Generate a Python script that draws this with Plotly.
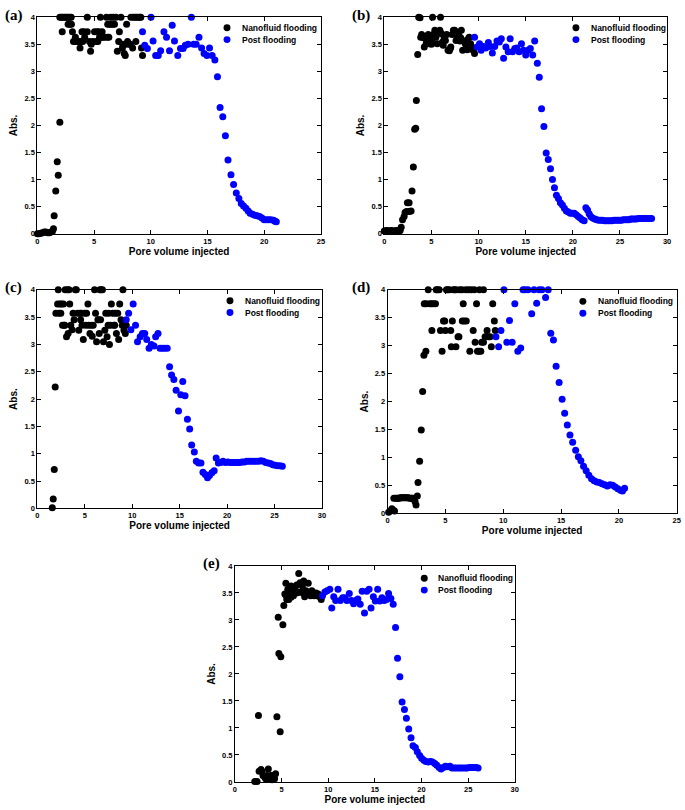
import plotly.graph_objects as go

# ---------------- data ----------------
# (a)
a_nf_x = [0.00,0.15,0.30,0.45,0.60,0.75,0.90,1.05,1.20,1.32,1.42,1.48,1.62,1.75,1.84,1.98,
          1.98,2.10,2.22,2.35,2.48,2.60,2.72,2.85,2.98,2.19,2.71,2.85,3.00,3.09,3.18,3.35,3.36,
          3.53,3.70,3.76,3.85,3.93,4.00,4.10,4.17,4.40,4.40,4.60,4.69,4.75,4.90,5.04,5.19,5.27,
          5.33,5.42,5.48,5.56,5.62,5.71,5.76,5.91,6.09,6.15,6.20,6.30,6.35,6.45,6.50,6.65,6.70,
          6.80,6.93,7.05,7.17,7.23,7.37,7.50,7.52,7.66,7.75,7.75,7.87,7.95,8.04,8.19,8.25,8.40,
          8.45,8.60,8.68,8.75,8.90,9.05,9.12,9.18,9.27]
a_nf_y = [0.00,0.00,0.01,0.02,0.03,0.03,0.02,0.02,0.03,0.04,0.09,0.33,0.79,1.33,1.08,2.06,
          4.00,4.00,4.00,4.00,4.00,4.00,4.00,4.00,4.00,3.73,3.87,3.87,3.87,3.73,3.55,3.63,3.55,
          3.55,3.55,3.43,3.55,3.73,3.55,3.73,3.63,4.00,3.73,3.55,3.37,3.50,3.55,3.73,3.55,3.73,
          3.55,3.73,3.63,4.00,3.63,3.73,3.63,3.63,4.00,3.63,3.87,3.63,3.87,4.00,3.87,3.87,4.00,
          3.87,4.00,3.37,3.55,3.73,4.00,3.43,3.50,3.33,3.29,3.50,3.87,3.55,3.50,3.50,4.00,3.43,
          4.00,4.00,3.55,4.00,4.00,4.00,4.00,3.43,3.29]
a_pf_x = [9.27,9.47,9.70,10.02,10.20,10.43,10.66,10.87,11.16,11.39,11.65,11.89,12.09,12.38,12.62,
          12.85,13.05,13.29,13.58,13.78,14.00,14.25,14.48,14.70,14.95,15.18,15.41,15.65,15.88,16.11,
          16.35,16.58,16.81,17.07,17.30,17.54,17.77,17.98,18.18,18.39,18.59,18.76,18.97,19.17,19.38,
          19.60,19.80,20.00,20.20,20.40,20.60,20.83,20.95,21.07]
a_pf_y = [3.73,3.48,3.42,4.00,3.56,3.29,3.29,3.38,3.73,3.63,3.38,3.85,3.56,3.29,3.42,
          3.42,3.48,3.50,4.00,3.50,3.50,3.63,3.43,3.33,3.29,3.43,3.29,3.21,2.90,2.33,
          2.16,1.81,1.36,1.09,0.91,0.75,0.65,0.56,0.51,0.47,0.42,0.38,0.36,0.34,0.33,
          0.32,0.29,0.26,0.26,0.26,0.26,0.25,0.23,0.22]

# (b)
b_nf_x = [0.00,0.12,0.24,0.36,0.48,0.60,0.72,0.84,0.96,1.08,1.20,1.32,1.44,1.56,1.68,
          1.79,1.93,2.10,2.20,2.35,2.45,2.63,2.66,2.84,2.94,3.08,3.22,3.33,3.40,3.54,3.65,3.79,5.12,5.96,
          3.86,3.96,4.14,4.24,4.38,4.52,4.66,4.77,4.90,5.05,5.19,5.36,5.47,5.61,5.71,5.89,6.06,6.17,
          6.34,6.48,6.62,6.76,6.90,7.05,7.19,7.33,7.47,7.61,7.75,7.89,8.03,8.17,8.31,8.45,8.59,8.73,
          8.87,9.00,9.15,9.29,9.43,9.57,4.45,5.00,6.25,7.00,8.10,8.80]
b_nf_y = [0.05,0.05,0.06,0.05,0.05,0.05,0.06,0.05,0.05,0.05,0.05,0.06,0.05,0.05,0.06,
          0.12,0.26,0.32,0.39,0.41,0.57,0.57,0.41,0.42,0.79,1.23,1.93,1.95,2.46,3.31,4.00,3.99,4.00,4.00,
          3.63,3.68,3.62,3.45,3.63,3.56,3.68,3.51,3.63,3.56,3.68,3.76,3.63,3.51,3.70,3.76,3.70,3.54,
          3.63,3.57,3.68,3.39,3.38,3.45,3.68,3.76,3.76,3.57,3.62,3.70,3.56,3.76,3.39,3.56,3.51,3.48,
          3.59,3.63,3.51,3.45,3.39,3.33,3.52,3.50,3.48,3.42,3.62,3.40]
b_pf_x = [9.57,9.85,10.10,10.27,10.52,10.76,11.04,11.25,11.46,11.71,11.95,12.20,12.41,12.65,12.90,
          13.14,13.35,13.60,13.84,14.06,14.30,14.55,14.76,15.00,15.25,15.49,15.74,15.95,16.23,16.44,
          16.68,16.93,17.17,17.39,17.63,17.84,18.05,18.26,18.47,18.68,18.89,19.10,19.31,19.52,19.73,
          19.94,20.15,20.36,20.57,20.78,20.99,21.20,21.38,21.56,21.73,21.90,22.10,22.33,22.53,
          22.75,22.95,23.15,23.35,23.55,23.75,23.95,24.15,24.35,24.55,24.75,24.95,25.15,25.35,25.55,
          25.75,25.95,26.15,26.35,26.55,26.75,26.95,27.15,27.35,27.55,27.75,27.95,28.15,28.35]
b_pf_y = [3.63,3.45,3.51,3.39,3.46,3.43,3.53,3.46,3.34,3.46,3.56,3.54,3.60,3.24,3.45,
          3.36,3.60,3.36,3.42,3.43,3.36,3.51,3.39,3.30,3.39,3.42,3.30,3.56,3.15,2.89,
          2.31,1.98,1.49,1.37,1.20,1.00,0.85,0.71,0.65,0.57,0.53,0.47,0.42,0.40,0.38,
          0.38,0.38,0.35,0.32,0.29,0.26,0.24,0.48,0.44,0.37,0.32,0.29,0.27,0.26,
          0.25,0.25,0.25,0.24,0.24,0.24,0.24,0.24,0.25,0.25,0.25,0.25,0.25,0.26,0.26,
          0.26,0.26,0.27,0.27,0.27,0.27,0.28,0.28,0.28,0.28,0.28,0.28,0.28,0.28]

# (c)
c_nf_x = [1.57,1.67,1.78,1.88,1.95,2.13,2.20,2.26,2.37,2.47,2.54,2.65,2.75,2.82,2.93,3.07,3.17,3.24,
          3.34,3.41,3.52,3.66,3.76,3.87,4.00,4.11,4.22,4.36,4.49,4.56,4.70,4.84,4.98,5.09,5.19,5.33,
          5.40,5.54,5.68,5.78,5.89,6.03,6.13,6.24,6.38,6.52,6.59,6.72,6.86,6.97,7.11,7.21,7.35,7.46,
          7.60,7.70,7.80,7.94,8.08,8.22,8.33,8.47,8.57,8.68,8.82,8.95,9.02,9.13,9.27,9.37,
          2.90,4.63,6.45,6.66,7.50,8.15,9.20]
c_nf_y = [0.01,0.17,0.71,2.22,3.57,3.74,4.00,3.57,3.74,3.57,3.74,3.35,3.74,3.35,4.00,3.14,4.00,3.20,
          4.00,3.74,3.35,3.27,3.57,3.45,4.00,4.00,3.57,3.26,3.57,3.45,3.35,3.09,3.57,3.35,3.57,3.74,
          3.35,3.20,3.35,3.15,3.35,4.00,3.57,3.05,3.45,3.20,4.00,4.00,4.00,3.05,3.26,3.57,3.14,3.35,
          3.00,3.35,3.74,3.57,3.35,3.57,3.20,3.57,3.09,3.74,3.45,3.35,4.00,3.26,3.20,3.35,
          3.35,3.57,3.45,3.45,3.57,3.35,3.35]
c_pf_x = [9.37,9.62,9.86,10.10,10.35,10.56,10.84,11.08,11.32,11.53,11.78,12.02,12.30,12.47,12.72,
          12.93,13.17,13.41,13.69,13.94,14.15,14.39,14.63,14.88,15.12,15.33,15.57,15.82,16.06,16.27,
          16.55,16.76,17.00,17.25,17.46,17.70,17.94,18.15,18.40,18.64,18.85,19.09,19.34,19.58,
          19.83,20.08,20.33,20.58,20.83,21.08,21.33,21.58,21.83,22.08,22.33,22.58,22.83,23.08,23.33,
          23.58,23.83,24.08,24.33,24.58,24.83,25.08,25.33,25.58,25.83]
c_pf_y = [3.45,3.57,3.27,3.74,3.35,3.05,3.14,3.20,3.20,3.09,2.93,3.00,2.97,3.14,3.20,
          2.93,2.93,2.93,2.93,2.59,2.44,2.36,2.16,1.78,2.08,2.32,2.06,1.63,1.45,1.16,
          1.03,0.86,0.83,0.83,0.66,0.62,0.56,0.60,0.65,0.69,0.92,0.83,0.84,0.86,
          0.84,0.85,0.84,0.84,0.84,0.84,0.84,0.85,0.85,0.86,0.86,0.86,0.86,0.86,0.86,
          0.87,0.86,0.84,0.83,0.82,0.80,0.79,0.78,0.78,0.77]

# (d)
d_nf_x = [0.09,0.23,0.37,0.46,0.60,0.54,0.70,0.80,0.90,1.00,1.10,1.20,1.30,1.40,1.50,1.60,1.70,1.80,
          1.90,2.00,2.10,2.20,2.30,2.37,2.46,2.57,2.63,2.77,2.91,3.03,3.14,3.31,
          3.17,3.34,3.51,3.66,3.80,3.97,4.14,3.83,4.20,4.31,4.46,4.57,4.71,4.83,4.94,5.00,5.09,5.20,
          5.34,5.46,5.60,5.69,5.80,5.91,5.51,5.91,6.09,6.17,6.23,6.43,6.54,6.46,6.63,6.80,6.77,7.00,
          7.11,7.23,7.40,7.49,7.57,7.69,7.77,7.91,8.06,7.94,8.14,8.29,8.29,8.43,8.60,8.71,8.86,8.97,
          9.09,9.23,9.31]
d_nf_y = [0.02,0.04,0.08,0.06,0.04,0.27,0.27,0.27,0.27,0.27,0.28,0.28,0.28,0.28,0.28,0.28,0.28,0.28,
          0.27,0.27,0.27,0.27,0.26,0.21,0.15,0.31,0.55,0.93,1.49,2.18,2.83,2.90,
          3.75,3.75,4.00,3.75,3.75,3.75,3.75,3.27,4.00,4.00,4.00,3.27,2.90,3.44,3.44,3.27,4.00,4.00,
          4.00,3.27,3.44,4.00,4.00,4.00,2.98,2.98,3.16,3.16,4.00,4.00,3.75,3.44,3.44,3.44,4.00,4.00,
          2.90,4.00,3.27,4.00,3.06,3.75,2.90,2.90,2.90,4.00,3.06,3.06,4.00,3.16,3.27,3.16,3.16,2.98,
          3.75,3.44,3.27]
d_pf_x = [9.37,9.60,9.80,10.06,10.31,10.54,10.77,11.00,11.26,11.51,11.71,11.89,12.14,12.46,12.66,
          12.89,13.11,13.34,13.66,13.89,14.11,14.34,14.57,14.83,15.09,15.31,15.54,15.77,16.00,16.26,
          16.49,16.71,16.94,17.17,17.40,17.63,17.86,18.09,18.31,18.54,18.77,19.00,19.23,19.46,19.69,
          19.91,20.14,20.31,20.49]
d_pf_y = [3.16,2.98,3.27,4.00,3.06,3.45,3.06,3.75,2.90,2.96,4.00,4.00,4.00,3.57,4.00,
          3.76,4.00,4.00,3.86,4.00,3.22,3.10,2.63,2.34,2.04,1.79,1.58,1.40,1.27,1.13,
          1.01,0.94,0.84,0.76,0.68,0.62,0.58,0.56,0.55,0.53,0.51,0.49,0.51,0.50,0.47,
          0.44,0.41,0.40,0.45]

# (e)
e_nf_x = [2.13,2.37,2.52,2.59,2.80,2.90,3.01,3.19,3.29,3.44,3.58,3.72,3.86,3.97,4.11,4.25,4.36,4.50,
          4.64,4.71,4.85,4.92,5.14,5.24,5.35,5.46,5.56,5.67,5.77,5.92,6.02,6.13,6.27,6.38,6.48,6.62,
          6.73,6.84,6.98,7.08,7.23,7.37,7.47,7.62,7.72,7.86,7.97,8.11,8.25,8.36,8.50,8.64,8.79,8.93,
          9.10,9.25,5.50,6.00,6.60,7.30,8.00,8.70]
e_nf_y = [0.01,0.01,1.23,0.20,0.23,0.20,0.12,0.09,0.06,0.12,0.24,0.06,0.12,0.04,0.12,0.06,0.15,1.21,
          3.05,2.38,0.93,2.32,2.91,3.27,3.48,3.68,3.38,3.57,3.38,3.54,3.63,3.58,3.45,3.61,3.54,3.65,
          3.52,3.86,3.69,3.51,3.63,3.72,3.43,3.54,3.48,3.68,3.51,3.45,3.54,3.48,3.45,3.48,3.45,3.48,
          3.43,3.38,3.45,3.42,3.50,3.55,3.50,3.50]
e_pf_x = [9.39,9.64,9.88,10.17,10.38,10.59,10.80,11.05,11.30,11.55,11.76,12.00,12.26,12.47,12.72,
          12.93,13.18,13.43,13.64,13.89,14.13,14.38,14.59,14.84,15.05,15.30,15.52,15.76,16.01,16.26,
          16.47,16.72,16.97,17.22,17.43,17.68,17.92,18.17,18.38,18.63,18.88,19.09,19.34,19.55,19.80,
          20.01,20.26,20.47,20.72,20.97,21.18,21.43,21.64,21.89,22.10,22.35,22.56,22.81,23.06,23.27,
          23.52,23.73,23.98,24.19,24.44,24.69,24.90,25.15,25.40,25.61,25.86,26.07]
e_pf_y = [3.45,3.52,3.54,3.57,3.22,3.43,3.36,3.57,3.36,3.41,3.41,3.36,3.49,3.36,3.30,
          3.36,3.39,3.29,3.53,3.13,3.53,3.57,3.22,3.43,3.35,3.57,3.35,3.41,3.36,3.38,
          3.49,3.40,3.29,2.86,2.29,1.95,1.48,1.34,1.18,0.98,0.82,0.67,0.64,0.56,0.49,
          0.44,0.40,0.38,0.37,0.38,0.37,0.34,0.31,0.27,0.24,0.27,0.29,0.28,0.29,0.26,
          0.26,0.26,0.26,0.26,0.26,0.26,0.26,0.27,0.27,0.27,0.27,0.26]

panel_labels = ["(a)", "(b)", "(c)", "(d)", "(e)"]
x_max = [25, 30, 30, 25, 30]
series_names = ["Nanofluid flooding", "Post flooding"]
x_title = "Pore volume injected"
y_title = "Abs."

# ---------------- layout geometry (pixels) ----------------
W, H = 685, 810
boxes = [  # left, top, right, bottom
    (35.7, 13.3, 321.7, 232.3),
    (385.7, 13.3, 671.0, 232.3),
    (35.7, 289.0, 322.7, 510.0),
    (389.0, 289.0, 680.7, 515.0),
    (235.0, 568.3, 517.3, 786.7),
]
label_pos = [(1, 12), (351, 12), (1, 287), (351, 287), (201, 566)]
legend_pos = [  # dot centre x, text x, row1 y, row2 y
    (227, 240, 24, 36),
    (579, 592, 24, 36),
    (230, 243, 300, 312),
    (586, 599, 300.7, 312.7),
    (426, 438, 580.7, 592.7),
]

def fx(px):
    return px / W

def fy(py):
    return 1 - py / H

data = [
    (a_nf_x, a_nf_y, a_pf_x, a_pf_y),
    (b_nf_x, b_nf_y, b_pf_x, b_pf_y),
    (c_nf_x, c_nf_y, c_pf_x, c_pf_y),
    (d_nf_x, d_nf_y, d_pf_x, d_pf_y),
    (e_nf_x, e_nf_y, e_pf_x, e_pf_y),
]
colors = ["#000000", "#0000ff"]

SANS = "Liberation Sans, Arial, Helvetica, sans-serif"
SERIF = "Liberation Serif, Times New Roman, serif"
tickfont = dict(family=SANS, size=7.5, color="black", weight="bold")
titlefont = dict(family=SANS, size=10, color="black", weight="bold")

fig = go.Figure()
layout = dict(
    width=W, height=H,
    margin=dict(l=0, r=0, t=0, b=0),
    paper_bgcolor="white", plot_bgcolor="white",
    showlegend=False,
)
shapes = []
annotations = []

for i, (nx, ny, px_, py_) in enumerate(data):
    assert len(nx) == len(ny) and len(px_) == len(py_)
    n = "" if i == 0 else str(i + 1)
    for (xs, ys), col, name in zip([(nx, ny), (px_, py_)], colors, series_names):
        fig.add_trace(go.Scatter(
            x=xs, y=ys, mode="markers", name=name,
            marker=dict(color=col, size=7, line=dict(width=0)),
            xaxis="x" + n, yaxis="y" + n, cliponaxis=False, showlegend=False,
        ))
    l, t, r, b = boxes[i]
    common = dict(
        showline=True, linecolor="black", linewidth=1, mirror="ticks",
        ticks="inside", ticklen=4, tickwidth=1, tickcolor="black",
        showgrid=False, zeroline=False, tickfont=tickfont, fixedrange=True,
    )
    layout["xaxis" + n] = dict(
        domain=[fx(l), fx(r)], anchor="y" + n, range=[0, x_max[i]],
        tick0=0, dtick=5, title=dict(text=x_title, font=titlefont, standoff=0), **common)
    layout["yaxis" + n] = dict(
        domain=[fy(b), fy(t)], anchor="x" + n, range=[0, 4],
        tick0=0, dtick=0.5, title=dict(text=y_title, font=titlefont, standoff=4), **common)

    # panel label
    lx, ly = label_pos[i]
    annotations.append(dict(
        text=panel_labels[i], x=fx(lx), y=fy(ly), xref="paper", yref="paper",
        xanchor="left", yanchor="middle", showarrow=False,
        font=dict(family=SERIF, size=15, color="black", weight="bold")))

    # legend (symbols + labels)
    dx, tx, r1, r2 = legend_pos[i]
    for row_y, col, name in zip((r1, r2), colors, series_names):
        rad = 3.5
        shapes.append(dict(type="circle", xref="paper", yref="paper",
                           x0=fx(dx - rad), x1=fx(dx + rad), y0=fy(row_y + rad), y1=fy(row_y - rad),
                           fillcolor=col, line=dict(width=0)))
        annotations.append(dict(
            text=name, x=fx(tx), y=fy(row_y), xref="paper", yref="paper",
            xanchor="left", yanchor="middle", showarrow=False,
            font=dict(family=SANS, size=8.5, color="black", weight="bold")))

layout["shapes"] = shapes
layout["annotations"] = annotations
fig.update_layout(**layout)
fig.write_html("out.html",
               config={"displayModeBar": False},
               post_script="document.body.style.margin='0px';document.body.style.padding='0px';")
